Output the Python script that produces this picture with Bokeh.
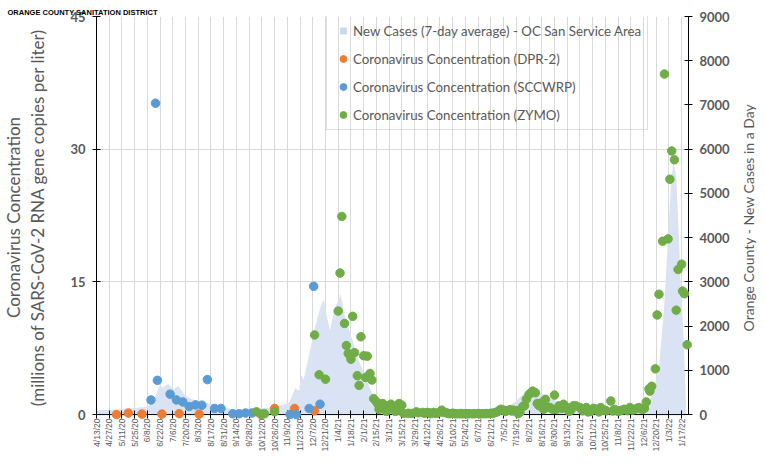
import math
import pandas as pd
from bokeh.plotting import figure
from bokeh.layouts import row
from bokeh.models import (Range1d, LinearAxis, FixedTicker, Legend, LegendItem, Title, Span)
from bokeh.embed import file_html
from bokeh.resources import INLINE

# ---------------- data ----------------
tick_labels = ["4/13/20", "4/27/20", "5/11/20", "5/25/20", "6/8/20", "6/22/20", "7/6/20",
               "7/20/20", "8/3/20", "8/17/20", "8/31/20", "9/14/20", "9/28/20", "10/12/20",
               "10/26/20", "11/9/20", "11/23/20", "12/7/20", "12/21/20", "1/4/21", "1/18/21",
               "2/1/21", "2/15/21", "3/1/21", "3/15/21", "3/29/21", "4/12/21", "4/26/21",
               "5/10/21", "5/24/21", "6/7/21", "6/21/21", "7/5/21", "7/19/21", "8/2/21",
               "8/16/21", "8/30/21", "9/13/21", "9/27/21", "10/11/21", "10/25/21", "11/8/21",
               "11/22/21", "12/6/21", "12/20/21", "1/3/22", "1/17/22"]

left_ticks = [0, 15, 30, 45]
right_ticks = [0, 1000, 2000, 3000, 4000, 5000, 6000, 7000, 8000, 9000]

case_dates = ["2020-04-13", "2020-04-27", "2020-05-11", "2020-05-25", "2020-06-07", "2020-06-14",
              "2020-06-21", "2020-06-26", "2020-07-01", "2020-07-06", "2020-07-12", "2020-07-20",
              "2020-07-27", "2020-08-11", "2020-08-29", "2020-09-13", "2020-10-05", "2020-10-27",
              "2020-11-11", "2020-11-18", "2020-11-22", "2020-11-24", "2020-11-27", "2020-12-03",
              "2020-12-10", "2020-12-16", "2020-12-19", "2020-12-23", "2020-12-26", "2020-12-31",
              "2021-01-07", "2021-01-11", "2021-01-18", "2021-01-27", "2021-02-05", "2021-02-14",
              "2021-02-25", "2021-03-15", "2021-04-15", "2021-05-15", "2021-06-15", "2021-07-01",
              "2021-07-08", "2021-07-19", "2021-07-30", "2021-08-06", "2021-08-17", "2021-09-01",
              "2021-09-19", "2021-10-26", "2021-12-01", "2021-12-09", "2021-12-16", "2021-12-23",
              "2021-12-29", "2022-01-02", "2022-01-05", "2022-01-08", "2022-01-11", "2022-01-14",
              "2022-01-16", "2022-01-19", "2022-01-22"]
case_values = [90, 110, 120, 150, 170, 260,
               640, 620, 695, 570, 640, 420,
               345, 270, 160, 120, 140, 160,
               270, 605, 530, 900, 790, 1350,
               2015, 2460, 2610, 2165, 1905, 2390,
               2720, 2240, 1790, 1200, 750, 307,
               150, 110, 90, 70, 60, 100,
               150, 307, 530, 605, 456, 307,
               196, 122, 122, 160, 456, 1050,
               2535, 4020, 5135, 5750, 5355, 4020,
               2830, 1790, 85]

dpr2_dates = ["2020-05-05", "2020-05-18", "2020-06-02", "2020-06-24", "2020-07-13",
              "2020-08-04", "2020-10-11", "2020-10-26", "2020-11-17", "2020-12-09"]
dpr2_values = [0.0, 0.17, 0.05, 0.05, 0.1, 0.05, 0.0, 0.69, 0.69, 0.42]

sccwrp_dates = ["2020-06-12", "2020-06-17", "2020-06-19", "2020-07-03", "2020-07-10",
                "2020-07-17", "2020-07-24", "2020-07-31", "2020-08-07", "2020-08-13",
                "2020-08-21", "2020-08-28", "2020-09-10", "2020-09-17", "2020-09-24",
                "2020-10-01", "2020-11-12", "2020-11-19", "2020-12-03", "2020-12-08",
                "2020-12-15"]
sccwrp_values = [1.65, 35.2, 3.87, 2.31, 1.65, 1.43, 0.91, 1.09, 1.06, 3.95,
                 0.69, 0.69, 0.09, 0.09, 0.17, 0.17, 0.0, 0.0, 0.69, 14.5, 1.17]

zymo_dates = ["2020-10-06", "2020-10-12", "2020-10-15", "2020-10-26", "2020-12-09",
              "2020-12-14", "2020-12-21", "2021-01-04", "2021-01-06", "2021-01-08",
              "2021-01-11", "2021-01-13", "2021-01-15", "2021-01-18", "2021-01-20",
              "2021-01-22", "2021-01-25", "2021-01-27", "2021-01-29", "2021-02-01",
              "2021-02-03", "2021-02-05", "2021-02-08", "2021-02-10", "2021-02-12",
              "2021-02-15", "2021-02-17", "2021-02-18", "2021-02-22", "2021-02-24",
              "2021-02-26", "2021-03-01", "2021-03-03", "2021-03-05", "2021-03-08",
              "2021-03-10", "2021-03-12", "2021-03-15", "2021-03-17", "2021-03-22",
              "2021-03-26", "2021-03-31", "2021-04-02", "2021-04-07", "2021-04-09",
              "2021-04-12", "2021-04-14", "2021-04-16", "2021-04-19", "2021-04-21",
              "2021-04-23", "2021-04-26", "2021-04-28", "2021-04-30", "2021-05-03",
              "2021-05-05", "2021-05-07", "2021-05-10", "2021-05-12", "2021-05-14",
              "2021-05-17", "2021-05-19", "2021-05-21", "2021-05-24", "2021-05-26",
              "2021-05-28", "2021-06-01", "2021-06-03", "2021-06-07", "2021-06-09",
              "2021-06-11", "2021-06-14", "2021-06-16", "2021-06-18", "2021-06-21",
              "2021-06-23", "2021-06-25", "2021-06-28", "2021-06-30", "2021-07-02",
              "2021-07-05", "2021-07-07", "2021-07-09", "2021-07-12", "2021-07-14",
              "2021-07-16", "2021-07-19", "2021-07-21", "2021-07-23", "2021-07-26",
              "2021-07-28", "2021-07-30", "2021-08-02", "2021-08-04", "2021-08-06",
              "2021-08-09", "2021-08-11", "2021-08-13", "2021-08-16", "2021-08-18",
              "2021-08-20", "2021-08-22", "2021-08-25", "2021-08-28", "2021-08-30",
              "2021-09-01", "2021-09-04", "2021-09-07", "2021-09-09", "2021-09-13",
              "2021-09-15", "2021-09-17", "2021-09-20", "2021-09-23", "2021-09-27",
              "2021-09-30", "2021-10-04", "2021-10-06", "2021-10-09", "2021-10-12",
              "2021-10-15", "2021-10-18", "2021-10-20", "2021-10-23", "2021-10-26",
              "2021-10-31", "2021-11-02", "2021-11-04", "2021-11-08", "2021-11-10",
              "2021-11-12", "2021-11-15", "2021-11-18", "2021-11-21", "2021-11-24",
              "2021-11-26", "2021-11-29", "2021-12-01", "2021-12-03", "2021-12-05",
              "2021-12-07", "2021-12-09", "2021-12-12", "2021-12-13", "2021-12-15",
              "2021-12-19", "2021-12-21", "2021-12-23", "2021-12-27", "2021-12-29",
              "2022-01-02", "2022-01-04", "2022-01-06", "2022-01-09", "2022-01-11",
              "2022-01-13", "2022-01-17", "2022-01-18", "2022-01-20", "2022-01-23"]
zymo_values = [0.31, 0.05, 0.08, 0.31, 9.0,
               4.5, 4.0, 11.7, 16.0, 22.4,
               10.3, 7.8, 6.9, 6.25, 11.1,
               7.0, 4.4, 3.3, 8.8, 6.65,
               4.2, 6.6, 4.65, 3.9, 1.8,
               1.45, 1.15, 0.6, 1.25, 0.72,
               0.35, 1.0, 1.17, 0.7, 0.36,
               0.55, 1.25, 1.06, 0.13, 0.15,
               0.13, 0.31, 0.2, 0.24, 0.15,
               0.24, 0.2, 0.1, 0.24, 0.15,
               0.15, 0.3, 0.5, 0.25, 0.2,
               0.12, 0.1, 0.15, 0.1, 0.08,
               0.1, 0.12, 0.08, 0.1, 0.08,
               0.1, 0.08, 0.1, 0.12, 0.08,
               0.1, 0.1, 0.12, 0.1, 0.15,
               0.12, 0.2, 0.3, 0.45, 0.6,
               0.5, 0.35, 0.45, 0.55, 0.4,
               0.5, 0.45, 0.1, 0.25, 0.9,
               1.0, 1.72, 2.28, 2.45, 2.65,
               2.47, 1.25, 1.0, 1.35, 0.6,
               1.72, 0.87, 0.8, 0.6, 2.2,
               0.6, 0.98, 0.7, 1.17, 0.8,
               0.35, 0.5, 1.0, 0.98, 0.8,
               0.43, 0.8, 0.3, 0.35, 0.7,
               0.6, 0.3, 0.8, 0.5, 0.43,
               1.53, 0.4, 0.6, 0.35, 0.43,
               0.5, 0.6, 0.45, 0.8, 0.5,
               0.6, 0.7, 0.8, 0.65, 0.6,
               0.7, 1.43, 2.9, 2.65, 3.2,
               5.17, 11.26, 13.6, 19.6, 38.5,
               19.86, 26.6, 29.8, 28.8, 11.8,
               16.4, 17.0, 13.96, 13.66, 7.9]

# ---------------- styling ----------------
FONT = "Lato"
GREY = "#595959"
GRID = "#d9d9d9"
AREA = "#dae3f3"
ORANGE = "#ed7d31"
BLUE = "#5b9bd5"
GREEN = "#70ad47"


def ms(ts):
    return pd.Timestamp(ts).value / 1e6


tick_dates = pd.to_datetime(tick_labels, format="%m/%d/%y")
tick_ms = [t.value / 1e6 for t in tick_dates]

Y_START = -0.445
X_START = ms("2020-04-13")
X_END = ms("2022-01-24 12:00")
p = figure(frame_width=592, height=464, x_axis_type="datetime",
           x_range=Range1d(X_START, X_END), y_range=Range1d(Y_START, 45),
           output_backend="svg", toolbar_location=None,
           min_border_left=89, min_border_right=52, min_border_top=16, min_border_bottom=40)
p.outline_line_color = None
p.background_fill_color = "white"
p.border_fill_color = "white"
p.extra_y_ranges = {"cases": Range1d(Y_START * 200, 9000)}

# title (partly cut in the source image)
p.title.text = "ORANGE COUNTY SANITATION DISTRICT"
p.title.align = "left"
p.title.offset = -89
p.title.standoff = 0
p.title.text_font = "Liberation Sans"
p.title.text_font_size = "7.5px"
p.title.text_font_style = "bold"
p.title.text_color = "black"
p.title.text_line_height = 1.0

# grids
p.xgrid.ticker = FixedTicker(ticks=tick_ms)
p.ygrid.ticker = FixedTicker(ticks=[15, 30, 45])
p.xgrid.grid_line_color = GRID
p.ygrid.grid_line_color = GRID

# zero line of the category axis
p.add_layout(Span(location=0, dimension="width", line_color="black", line_width=1))

# bottom axis: tick labels, ticks reaching up across the zero line
xa = p.xaxis[0]
xa.ticker = FixedTicker(ticks=tick_ms)
xa.major_label_overrides = {t: lab for t, lab in zip(tick_ms, tick_labels)}
xa.axis_line_color = None
xa.major_tick_line_color = "black"
xa.major_tick_in = 8
xa.major_tick_out = 0
xa.minor_tick_line_color = None
xa.major_label_orientation = math.pi / 2
xa.major_label_standoff = 0
xa.major_label_text_font = "Liberation Sans"
xa.major_label_text_font_size = "8.5px"
xa.major_label_text_color = GREY

# left axis
ya = p.yaxis[0]
ya.ticker = FixedTicker(ticks=left_ticks)
ya.bounds = (0, 45)
ya.axis_line_color = "black"
ya.major_tick_line_color = "black"
ya.major_tick_in = 4
ya.major_tick_out = 4
ya.minor_tick_line_color = None
ya.major_label_standoff = 7
ya.major_label_text_font = FONT
ya.major_label_text_font_style = "bold"
ya.major_label_text_font_size = "13px"
ya.major_label_text_color = GREY
ya.axis_label = "Coronavirus Concentration\n(millions of SARS-CoV-2 RNA gene copies per liter)"
ya.axis_label_text_font = FONT
ya.axis_label_text_font_style = "normal"
ya.axis_label_text_font_size = "17px"
ya.axis_label_text_line_height = 1.15
ya.axis_label_text_color = GREY
ya.axis_label_standoff = 19

# right axis (ticks + labels)
ra = LinearAxis(y_range_name="cases", ticker=FixedTicker(ticks=right_ticks), bounds=(0, 9000))
ra.axis_line_color = "black"
ra.major_tick_line_color = "black"
ra.major_tick_in = 4
ra.major_tick_out = 4
ra.minor_tick_line_color = None
ra.major_label_standoff = 7
ra.major_label_text_font = FONT
ra.major_label_text_font_style = "bold"
ra.major_label_text_font_size = "13px"
ra.major_label_text_color = GREY
p.add_layout(ra, "right")

# area
case_x = pd.to_datetime(case_dates)
area = p.varea(x=case_x, y1=0, y2=case_values, y_range_name="cases", fill_color=AREA)
# legend key for the area (zero-size markers on the same data)
area_key = p.scatter(case_x, case_values, y_range_name="cases", marker="square", size=0,
                     fill_color="#c9d7ef", line_color=None)

# scatter series
r_dpr = p.scatter(pd.to_datetime(dpr2_dates), dpr2_values, size=8.5, color=ORANGE, level="overlay")
r_scc = p.scatter(pd.to_datetime(sccwrp_dates), sccwrp_values, size=8.5, color=BLUE, level="overlay")
r_zym = p.scatter(pd.to_datetime(zymo_dates), zymo_values, size=8.5, color=GREEN, level="overlay")

legend = Legend(items=[
    LegendItem(label="New Cases (7-day average) - OC San Service Area", renderers=[area_key]),
    LegendItem(label="Coronavirus Concentration (DPR-2)", renderers=[r_dpr]),
    LegendItem(label="Coronavirus Concentration (SCCWRP)", renderers=[r_scc]),
    LegendItem(label="Coronavirus Concentration (ZYMO)", renderers=[r_zym]),
], location=(230, 288), orientation="vertical")
legend.border_line_color = "#bfbfbf"
legend.border_line_width = 1
legend.background_fill_alpha = 0
legend.padding = 6
legend.spacing = 11
legend.margin = 0
legend.label_height = 17
legend.glyph_height = 17
legend.glyph_width = 20
legend.label_standoff = 0
legend.label_text_font = FONT
legend.label_text_font_size = "13.3px"
legend.label_text_color = GREY
p.add_layout(legend)

# right-hand axis title (reads bottom to top), in a narrow companion panel
side = figure(width=16, height=464, output_backend="svg", toolbar_location=None,
              x_axis_location=None, y_axis_location=None,
              min_border_left=15, min_border_right=0, min_border_top=0, min_border_bottom=46)
side.outline_line_color = None
side.grid.visible = False
side.background_fill_color = "white"
side.border_fill_color = "white"
side.add_layout(Title(text="Orange County - New Cases in a Day", align="center", standoff=0,
                      text_font=FONT, text_font_size="14px", text_font_style="normal",
                      text_line_height=1.0, text_color=GREY), "left")

open("out.html", "w").write(file_html(row(p, side), INLINE))
